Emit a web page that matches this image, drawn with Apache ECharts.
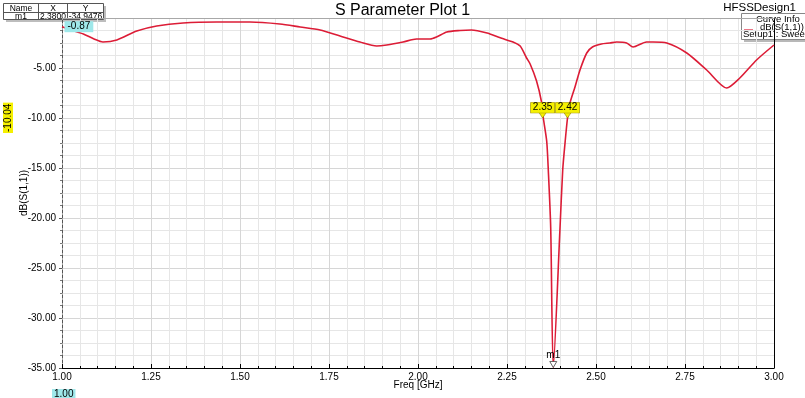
<!DOCTYPE html>
<html>
<head>
<meta charset="utf-8">
<script src="https://cdn.jsdelivr.net/npm/echarts@6/dist/echarts.min.js"></script>
<style>
  html, body { margin: 0; padding: 0; background: #fff; }
  #chart { width: 805px; height: 398px; }
</style>
</head>
<body>
<div id="chart"></div>
<script>
// frequency points (GHz) and dB(S(1,1)) values
const freqs = [
  1.00, 1.03, 1.06, 1.09, 1.115, 1.154, 1.21, 1.266, 1.34, 1.435, 1.528, 1.612,
  1.669, 1.725, 1.781, 1.837, 1.884, 1.912, 1.958, 1.996, 2.034, 2.052, 2.081,
  2.118, 2.15, 2.194, 2.225, 2.249, 2.267, 2.287, 2.305, 2.315, 2.333, 2.347,
  2.352, 2.3615, 2.366, 2.3728, 2.38, 2.3989, 2.4065, 2.413, 2.42, 2.427, 2.441,
  2.455, 2.474, 2.49, 2.515, 2.539, 2.558, 2.586, 2.604, 2.642, 2.66, 2.699,
  2.755, 2.811, 2.867, 2.904, 2.951, 3.00
]
const s11 = [
  -0.87, -1.25, -1.6, -2.1, -2.4, -2.2, -1.3, -0.8, -0.5, -0.4, -0.4, -0.6,
  -0.9, -1.2, -1.8, -2.4, -2.8, -2.7, -2.4, -2.1, -2.1, -1.9, -1.4,
  -1.25, -1.2, -1.5, -1.9, -2.2, -2.4, -2.8, -4.0, -4.6, -6.3, -8.4,
  -10.0, -12.3, -15.2, -21.0, -34.95, -21.0, -15.2, -12.5, -10.0, -8.5, -6.9,
  -5.2, -3.5, -2.9, -2.6, -2.5, -2.4, -2.5, -2.9, -2.4, -2.4, -2.5,
  -3.5, -5.2, -7.0, -6.0, -4.2, -2.7
]

// marker values
const markerFreqs = [2.35, 2.42]
const markerLevel = -10
const m1 = { name: 'm1', x: 2.38, y: -34.9476 }
const xMarker = { x: 1.00, y: -0.87 }
const yMarkerLabel = '-10.04'

const fontFamily = 'Liberation Sans, Arial, sans-serif'
const chart = echarts.init(document.getElementById('chart'))

const markPoints = markerFreqs.map(f => ({
  coord: [f, markerLevel],
  symbol: 'triangle',
  symbolRotate: 180,
  symbolSize: [8, 6],
  symbolOffset: [0, -3],
  itemStyle: { color: '#f5f000', borderColor: '#8a7a00', borderWidth: 0.6 },
  label: {
    show: true,
    position: 'top',
    distance: -1,
    formatter: f.toFixed(2),
    color: '#000',
    fontSize: 10,
    lineHeight: 10,
    fontFamily,
    backgroundColor: '#f5f000',
    borderColor: '#a09000',
    borderWidth: 0.6,
    padding: [0, 2, 0, 2],
  },
}))
markPoints.push({
  coord: [m1.x, m1.y],
  symbol: 'triangle',
  symbolRotate: 180,
  symbolSize: [7, 6],
  symbolOffset: [0, -3],
  itemStyle: { color: '#fff', borderColor: '#444', borderWidth: 0.8 },
  label: {
    show: true, position: 'top', distance: 1, formatter: m1.name,
    color: '#000', fontSize: 10, fontFamily,
  },
})
markPoints.push({
  coord: [xMarker.x, xMarker.y],
  symbol: 'rect',
  symbolSize: 1,
  itemStyle: { color: 'transparent' },
  label: {
    show: true, position: 'right', distance: 2, formatter: xMarker.y.toFixed(2),
    color: '#000', fontSize: 10, fontFamily,
    backgroundColor: '#9fe8ea', padding: [1, 3, 0, 3],
  },
})

chart.setOption({
  animation: false,
  backgroundColor: '#fff',
  title: {
    text: 'S Parameter Plot 1',
    left: 'center',
    top: -2,
    textStyle: { fontSize: 16, fontWeight: 'normal', color: '#000', fontFamily },
  },
  grid: { left: 62, right: 31, top: 18, bottom: 30 },
  xAxis: [{
    type: 'value',
    min: 1,
    max: 3,
    interval: 0.25,
    name: 'Freq [GHz]',
    nameLocation: 'middle',
    nameGap: 12,
    nameMoveOverlap: false,
    nameTextStyle: { fontSize: 10, color: '#000', fontFamily },
    axisLine: { onZero: false, lineStyle: { color: '#000', width: 1 } },
    axisTick: { show: true, length: 4, inside: true, lineStyle: { color: '#000' } },
    minorTick: { show: true, splitNumber: 5, length: 2, lineStyle: { color: '#000' } },
    axisLabel: { formatter: v => v.toFixed(2), fontSize: 10, color: '#000', fontFamily, margin: 4 },
    splitLine: { show: true, lineStyle: { color: '#d6d6d6', width: 1 } },
    minorSplitLine: { show: true, lineStyle: { color: '#e6e6e6', width: 1 } },
  }, {
    type: 'value',
    position: 'top',
    min: 1,
    max: 3,
    axisLine: { show: true, lineStyle: { color: '#a8a8a8' } },
    axisTick: { show: false },
    axisLabel: { show: false },
    splitLine: { show: false },
  }],
  yAxis: [{
    type: 'value',
    min: -35,
    max: 0,
    interval: 5,
    name: 'dB(S(1,1))',
    nameLocation: 'middle',
    nameGap: 33,
    nameMoveOverlap: false,
    nameTextStyle: { fontSize: 10, color: '#000', fontFamily },
    axisLine: { onZero: false, lineStyle: { color: '#555', type: [3, 2] } },
    axisTick: { show: true, length: 3, lineStyle: { color: '#555' } },
    minorTick: { show: true, splitNumber: 4, length: 2, lineStyle: { color: '#777' } },
    axisLabel: {
      formatter: v => v.toFixed(2), fontSize: 10, color: '#000', fontFamily, margin: 6,
      showMaxLabel: false,
    },
    splitLine: { show: true, lineStyle: { color: '#d6d6d6', width: 1 } },
    minorSplitLine: { show: true, lineStyle: { color: '#e6e6e6', width: 1 } },
  }, {
    type: 'value',
    position: 'right',
    min: -35,
    max: 0,
    axisLine: { show: true, lineStyle: { color: '#000' } },
    axisTick: { show: false },
    axisLabel: { show: false },
    splitLine: { show: false },
  }],
  series: [{
    name: 'dB(S(1,1))',
    type: 'line',
    data: freqs.map((f, i) => [f, s11[i]]),
    showSymbol: false,
    smooth: 0.25,
    lineStyle: { color: '#dc1c36', width: 1.6 },
    markPoint: { silent: true, data: markPoints },
  }],
  graphic: [
    // HFSS design name
    { type: 'text', right: 9, top: 2,
      style: { text: 'HFSSDesign1', fontSize: 11.5, fill: '#000', fontFamily } },
    // curve info box
    { type: 'rect', shape: { x: 744, y: 16, width: 64, height: 26 }, style: { fill: '#b8b8b8' } },
    { type: 'rect', shape: { x: 741.5, y: 13.5, width: 64, height: 26 }, style: { fill: '#fff', stroke: '#888', lineWidth: 1 } },
    { type: 'text', x: 756, y: 14, style: { text: 'Curve Info', fontSize: 9.5, fill: '#000', fontFamily } },
    { type: 'line', shape: { x1: 744, y1: 30, x2: 753, y2: 30 }, style: { stroke: '#dc1c36', lineWidth: 1.2 } },
    { type: 'text', x: 760, y: 22, style: { text: 'dB(S(1,1))', fontSize: 9.5, fill: '#000', fontFamily } },
    { type: 'text', x: 743, y: 29.5, style: { text: 'Setup1 : Sweep', fontSize: 9.5, fill: '#000', fontFamily } },
    // marker table
    { type: 'rect', shape: { x: 6, y: 6, width: 100, height: 16 }, style: { fill: '#bdbdbd' } },
    { type: 'rect', shape: { x: 3.5, y: 3.5, width: 100, height: 16 }, style: { fill: '#fff', stroke: '#555', lineWidth: 1 } },
    { type: 'line', shape: { x1: 3.5, y1: 12.5, x2: 103.5, y2: 12.5 }, style: { stroke: '#555', lineWidth: 1 } },
    { type: 'line', shape: { x1: 38.5, y1: 3.5, x2: 38.5, y2: 19.5 }, style: { stroke: '#555', lineWidth: 1 } },
    { type: 'line', shape: { x1: 67.5, y1: 3.5, x2: 67.5, y2: 19.5 }, style: { stroke: '#555', lineWidth: 1 } },
    { type: 'text', x: 21, y: 4, style: { text: 'Name', fontSize: 8.5, fill: '#000', fontFamily, align: 'center' } },
    { type: 'text', x: 53, y: 4, style: { text: 'X', fontSize: 8.5, fill: '#000', fontFamily, align: 'center' } },
    { type: 'text', x: 85.5, y: 4, style: { text: 'Y', fontSize: 8.5, fill: '#000', fontFamily, align: 'center' } },
    { type: 'text', x: 21, y: 12.5, style: { text: m1.name, fontSize: 8.5, fill: '#000', fontFamily, align: 'center' } },
    { type: 'text', x: 53, y: 12.5, style: { text: m1.x.toFixed(4), fontSize: 8.5, fill: '#000', fontFamily, align: 'center' } },
    { type: 'text', x: 85.5, y: 12.5, style: { text: m1.y.toFixed(4), fontSize: 8.5, fill: '#000', fontFamily, align: 'center' } },
    // y marker label
    { type: 'text', x: 3, y: 133, rotation: Math.PI / 2,
      style: { text: yMarkerLabel, fontSize: 10, fill: '#000', fontFamily, backgroundColor: '#f5f000', padding: [0, 1] } },
    // x marker label under axis
    { type: 'text', x: 52, y: 389,
      style: { text: xMarker.x.toFixed(2), fontSize: 10, fill: '#000', fontFamily, backgroundColor: '#9fe8ea', padding: [0, 2] } },
  ],
})
</script>
</body>
</html>
